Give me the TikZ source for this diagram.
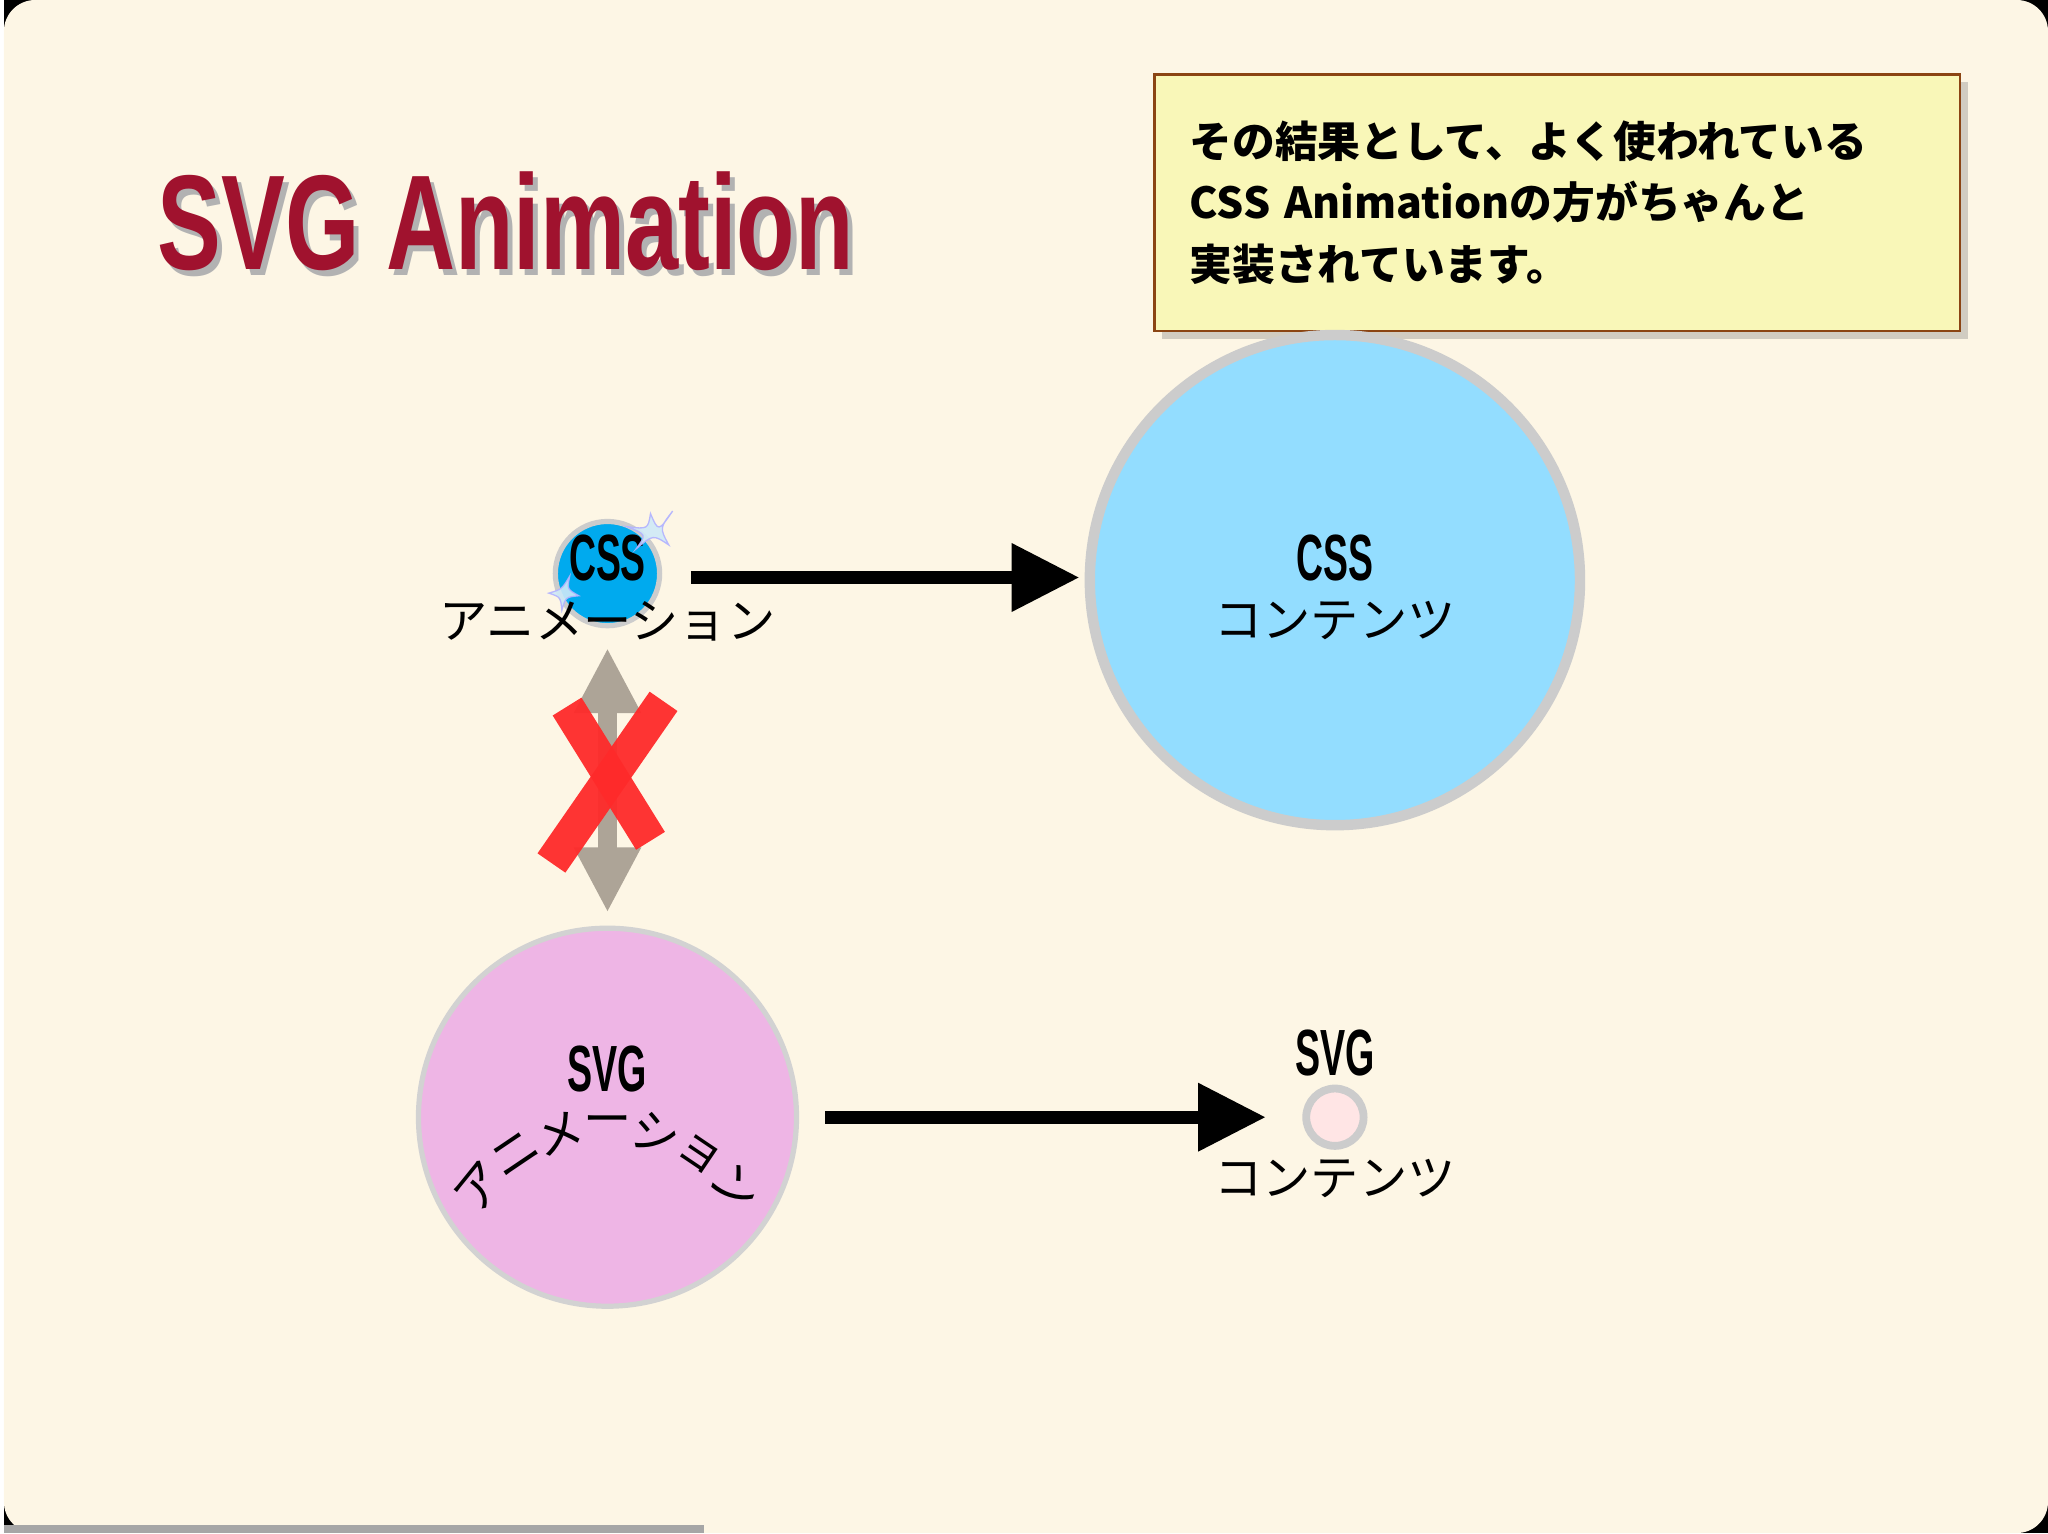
\documentclass[tikz,border=0pt]{standalone}
\usepackage{fontspec}
\setmainfont{Liberation Sans}
\newfontfamily\jp{Noto Sans CJK JP}
\usetikzlibrary{arrows.meta,shadows,calc}
\definecolor{bg}{HTML}{FDF6E5}
\definecolor{ttl}{HTML}{A0122E}
\definecolor{boxf}{HTML}{F9F7B8}
\definecolor{boxd}{HTML}{8B4513}
\definecolor{bigc}{HTML}{93DDFF}
\definecolor{smc}{HTML}{00AAEE}
\definecolor{pinkc}{HTML}{EEB5E5}
\definecolor{arrg}{HTML}{ADA497}
\definecolor{redx}{HTML}{FF2A2A}
\definecolor{spk}{HTML}{CFE9F7}
\newcommand{\cond}[2]{\resizebox{#1pt}{17.5pt}{\bfseries #2}}
\tikzset{
 lbl/.style={font=\jp\fontsize{18.5pt}{20pt}\selectfont, inner sep=0pt},
 blk/.style={line width=5pt, -{Triangle[length=26pt,width=25pt]}},
}
\begin{document}
\begin{tikzpicture}[x=0.5pt,y=-0.5pt]
\fill[black] (0,0) rectangle (1568,1176);
\fill[bg, rounded corners=12pt] (0,0) rectangle (1568,1176);
\draw[gray!70, line width=3pt] (0,1173) -- (537,1173);
% title
\node[text=gray!60, inner sep=0] at (389,174) {\resizebox{267pt}{37.5pt}{\bfseries SVG Animation}};
\node[text=ttl, inner sep=0] (title) at (385,170) {\resizebox{267pt}{37.5pt}{\bfseries SVG Animation}};
% box
\node[draw=boxd, fill=boxf, line width=1pt, drop shadow={opacity=0.35,shadow xshift=3pt,shadow yshift=-3pt},
 minimum width=309pt, minimum height=98.5pt, text width=294pt, align=left, inner sep=0,
 font=\jp\bfseries\fontsize{16.4pt}{23.5pt}\selectfont] (box) at (1191.5,155.5)
 {\hspace*{6pt}その結果として、よく使われている\\\hspace*{6pt}CSS Animationの方がちゃんと\\\hspace*{6pt}実装されています。};
% big css circle
\node[circle, draw=gray!40, fill=bigc, line width=4pt, minimum size=188pt] (cssc) at (1021,445) {};
\node (csst) at (1021,428) {\cond{29.5}{CSS}};
\node[lbl] (cssl) at (1021,476) {コンテンツ};
% small css circle
\node[circle, draw=gray!40, fill=smc, line width=2pt, minimum size=40pt] (cssa) at (463,440) {};
\node (cssat) at (463,428) {\cond{29.5}{CSS}};
\fill[spk, draw=blue!30, line width=0.5pt, opacity=0.9] (496,394) .. controls (502,408) .. (513,392) .. controls (503,405) .. (510,418) .. controls (498,410) .. (485,421) .. controls (493,410) .. (478,404) .. controls (494,406) .. cycle;
\fill[spk, draw=blue!30, line width=0.5pt, opacity=0.9] (418,455) .. controls (428,452) .. (434,442) .. controls (432,452) .. (441,457) .. controls (431,458) .. (428,468) .. controls (427,458) .. cycle;
\node[lbl] (cssal) at (463,477) {アニメーション};
\coordinate (a1s) at (527,443);
\coordinate (a1e) at (825,443);
\draw[blk] (a1s) -- (a1e);
% gray double arrow
\coordinate (g1) at (463,497);
\coordinate (g2) at (463,700);
\draw[arrg, line width=7pt, {Triangle[length=25pt,width=24pt]}-{Triangle[length=25pt,width=24pt]}] (g1) -- (g2);
% red X
\draw[redx, line width=13pt, opacity=0.95] (420,662) -- (506,538);
\draw[redx, line width=13pt, opacity=0.95] (432,542) -- (496,645);
% pink svg circle
\node[circle, draw=gray!35, fill=pinkc, line width=2pt, minimum size=145pt] (svgc) at (463,857) {};
\node (svgt) at (463,820) {\cond{30.5}{SVG}};
\foreach \ch [count=\i] in {ア,ニ,メ,ー,シ,ョ,ン}{
 \pgfmathsetmacro\ang{90+(\i-4)*17}
 \node[lbl, rotate=90-\ang] at ($(463,990)+(\ang:-126)$) {\ch};
}
\coordinate (a2s) at (630,857);
\coordinate (a2e) at (968,857);
\draw[blk] (a2s) -- (a2e);
% small svg circle
\node[circle, draw=gray!40, fill=pink!40!white, line width=3pt, minimum size=22pt] (svgs) at (1021,857) {};
\node (svgst) at (1021,808) {\cond{30.5}{SVG}};
\node[lbl] (svgsl) at (1021,904) {コンテンツ};
\end{tikzpicture}
\end{document}
